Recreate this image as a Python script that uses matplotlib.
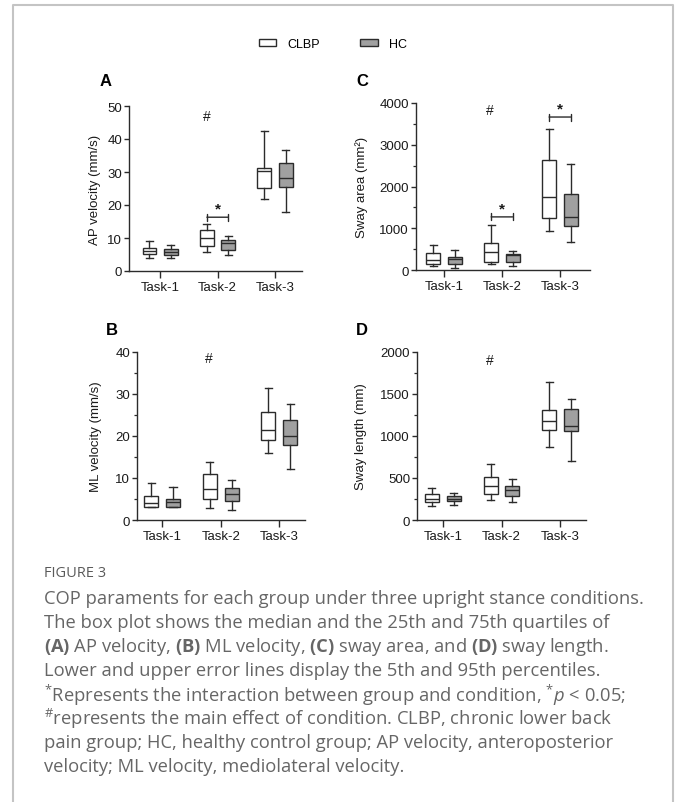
import matplotlib
matplotlib.use("Agg")
import matplotlib.pyplot as plt
from matplotlib.patches import Patch
from matplotlib.lines import Line2D
from matplotlib.ticker import MultipleLocator

W, H = 677, 803
plt.rcParams['font.family'] = ['Liberation Sans', 'DejaVu Sans']
plt.rcParams['mathtext.fontset'] = 'custom'
plt.rcParams['mathtext.rm'] = 'Open Sans'
plt.rcParams['mathtext.bf'] = 'Open Sans:bold'
plt.rcParams['mathtext.it'] = 'Open Sans:italic'

tasks = ["Task-1", "Task-2", "Task-3"]
groups = ["CLBP", "HC"]

# (A) AP velocity
ap_clbp_lo = [4.0, 5.7, 21.7]
ap_clbp_q1 = [5.1, 7.7, 25.2]
ap_clbp_med = [6.0, 10.0, 30.2]
ap_clbp_q3 = [6.9, 12.4, 31.1]
ap_clbp_hi = [9.0, 14.2, 42.3]
ap_hc_lo = [4.0, 5.0, 17.8]
ap_hc_q1 = [5.0, 6.4, 25.4]
ap_hc_med = [5.8, 8.6, 28.1]
ap_hc_q3 = [6.6, 9.3, 32.8]
ap_hc_hi = [8.0, 10.6, 36.8]

# (B) ML velocity
ml_clbp_lo = [3.0, 2.9, 16.0]
ml_clbp_q1 = [3.0, 5.0, 19.0]
ml_clbp_med = [4.1, 7.4, 21.5]
ml_clbp_q3 = [5.8, 11.0, 25.6]
ml_clbp_hi = [8.9, 13.9, 31.5]
ml_hc_lo = [3.0, 2.3, 12.1]
ml_hc_q1 = [3.0, 4.6, 17.8]
ml_hc_med = [4.2, 6.2, 20.0]
ml_hc_q3 = [4.9, 7.6, 23.8]
ml_hc_hi = [7.9, 9.6, 27.6]

# (C) Sway area
area_clbp_lo = [104, 136, 936]
area_clbp_q1 = [152, 184, 1240]
area_clbp_med = [240, 432, 1744]
area_clbp_q3 = [400, 648, 2624]
area_clbp_hi = [608, 1080, 3384]
area_hc_lo = [40, 88, 672]
area_hc_q1 = [152, 184, 1048]
area_hc_med = [272, 352, 1264]
area_hc_q3 = [320, 376, 1832]
area_hc_hi = [472, 456, 2536]

# (D) Sway length
len_clbp_lo = [171, 239, 869]
len_clbp_q1 = [219, 315, 1068]
len_clbp_med = [255, 410, 1179]
len_clbp_q3 = [311, 514, 1307]
len_clbp_hi = [378, 661, 1641]
len_hc_lo = [179, 211, 697]
len_hc_q1 = [227, 287, 1056]
len_hc_med = [255, 355, 1120]
len_hc_q3 = [291, 402, 1327]
len_hc_hi = [327, 490, 1438]

# significance brackets: (task index, bracket height)
ap_sig = [(1, 16.3)]
ml_sig = []
area_sig = [(1, 1272), (2, 3664)]
len_sig = []

EDGE = "#2b2b2b"
HC_FILL = "#a0a0a0"
OFF = 0.185
BW = 0.24


def rect(x0, x1, yt, yb):
    return [x0 / W, 1 - yb / H, (x1 - x0) / W, (yb - yt) / H]


fig = plt.figure(figsize=(W / 100, H / 100), dpi=100)

# outer frame
fc = "#c4c4c4"
fig.add_artist(Line2D([13 / W, 13 / W, 673 / W, 673 / W],
                      [0, 1 - 6 / H, 1 - 6 / H, 0],
                      transform=fig.transFigure, color=fc, lw=1.5))


def stats(lo, q1, med, q3, hi):
    return [dict(whislo=a, q1=b, med=c, q3=d, whishi=e, fliers=[])
            for a, b, c, d, e in zip(lo, q1, med, q3, hi)]


def panel(box, xlim, ylim, major, minor, ylabel, letter, letter_xy,
          ylab_x, clbp, hc, sig, hash_xy):
    ax = fig.add_axes(rect(*box))
    pos = [1, 2, 3]
    for st, off, fill in ((clbp, -OFF, "white"), (hc, OFF, HC_FILL)):
        ax.bxp(st, positions=[p + off for p in pos], widths=BW,
               showfliers=False, patch_artist=True, manage_ticks=False,
               boxprops=dict(facecolor=fill, edgecolor=EDGE, linewidth=1.0),
               medianprops=dict(color=EDGE, linewidth=1.0),
               whiskerprops=dict(color=EDGE, linewidth=1.0),
               capprops=dict(color=EDGE, linewidth=1.0))
    ax.set_xlim(*xlim)
    ax.set_ylim(*ylim)
    ax.set_xticks(pos)
    ax.set_xticklabels(tasks)
    ax.yaxis.set_major_locator(MultipleLocator(major))
    if minor:
        ax.yaxis.set_minor_locator(MultipleLocator(minor))
    for s in ("top", "right"):
        ax.spines[s].set_visible(False)
    for s in ("left", "bottom"):
        ax.spines[s].set_color(EDGE)
        ax.spines[s].set_linewidth(1.0)
    ax.tick_params(axis="x", length=5, width=1.0, color=EDGE,
                   labelsize=9.5, pad=2, labelcolor="#1a1a1a")
    ax.tick_params(axis="y", which="major", length=3.5, width=1.0,
                   color=EDGE, labelsize=9.5, pad=1.5, labelcolor="#1a1a1a")
    ax.tick_params(axis="y", which="minor", length=2.5, width=0.9, color=EDGE)
    ax.set_ylabel(ylabel, fontsize=9.5, color="#1a1a1a")
    x0 = box[0]
    ax.yaxis.set_label_coords((ylab_x - x0) / (box[1] - x0), 0.5)
    fig.text(letter_xy[0] / W, 1 - letter_xy[1] / H, letter,
             fontsize=12, fontweight="bold", ha="center", va="center")
    for ti, yv in sig:
        xa = pos[ti] - OFF
        xb = pos[ti] + OFF
        ax.annotate("", xy=(xa, yv), xytext=(xb, yv),
                    arrowprops=dict(arrowstyle="|-|, widthA=0.25, widthB=0.25",
                                    color=EDGE, lw=1.0, shrinkA=0, shrinkB=0))
        ax.annotate("*", xy=((xa + xb) / 2, yv), xytext=(0, 1),
                    textcoords="offset points", ha="center", va="bottom",
                    fontsize=11, fontweight="bold", color="#1a1a1a")
    ax.text(hash_xy[0], hash_xy[1], "#", ha="center", va="center",
            fontsize=10, color="#1a1a1a")
    return ax


panel((129, 302, 107, 272), (0.46, 3.47), (0, 50), 10, None,
      "AP velocity (mm/s)", "A", (106, 82), 101,
      stats(ap_clbp_lo, ap_clbp_q1, ap_clbp_med, ap_clbp_q3, ap_clbp_hi),
      stats(ap_hc_lo, ap_hc_q1, ap_hc_med, ap_hc_q3, ap_hc_hi),
      ap_sig, (1.82, 47))
panel((137, 305, 353, 521), (0.57, 3.44), (0, 40), 10, 5,
      "ML velocity (mm/s)", "B", (112, 331), 102,
      stats(ml_clbp_lo, ml_clbp_q1, ml_clbp_med, ml_clbp_q3, ml_clbp_hi),
      stats(ml_hc_lo, ml_hc_q1, ml_hc_med, ml_hc_q3, ml_hc_hi),
      ml_sig, (1.79, 38.6))
panel((416, 590, 104, 271), (0.52, 3.52), (0, 4000), 1000, 500,
      "Sway area (mm²)", "C", (362, 82), 368,
      stats(area_clbp_lo, area_clbp_q1, area_clbp_med, area_clbp_q3, area_clbp_hi),
      stats(area_hc_lo, area_hc_q1, area_hc_med, area_hc_q3, area_hc_hi),
      area_sig, (1.79, 3840))
panel((417, 586, 353, 521), (0.56, 3.44), (0, 2000), 500, 250,
      "Sway length (mm)", "D", (362, 331), 367,
      stats(len_clbp_lo, len_clbp_q1, len_clbp_med, len_clbp_q3, len_clbp_hi),
      stats(len_hc_lo, len_hc_q1, len_hc_med, len_hc_q3, len_hc_hi),
      len_sig, (1.8, 1908))

handles = [Patch(facecolor="white", edgecolor=EDGE, lw=1.0),
           Patch(facecolor=HC_FILL, edgecolor=EDGE, lw=1.0)]
fig.legend(handles, groups, loc="center", bbox_to_anchor=(333 / W, 1 - 45 / H),
           ncol=2, frameon=False, fontsize=9, handlelength=1.4,
           handleheight=0.55, handletextpad=0.9, columnspacing=3.2)

# caption
cap_col = "#666666"
fig.text(44 / W, 1 - 574 / H, "FIGURE 3", fontsize=10.5, color="#5a5a5a",
         family="Open Sans", va="center", ha="left")
lines = [
    "COP paraments for each group under three upright stance conditions.",
    "The box plot shows the median and the 25th and 75th quartiles of",
    r"$\mathbf{(A)}$ AP velocity, $\mathbf{(B)}$ ML velocity, $\mathbf{(C)}$ sway area, and $\mathbf{(D)}$ sway length.",
    "Lower and upper error lines display the 5th and 95th percentiles.",
    r"$^{*}$Represents the interaction between group and condition, $^{*}\mathit{p}$ < 0.05;",
    r"$^{\#}$represents the main effect of condition. CLBP, chronic lower back",
    "pain group; HC, healthy control group; AP velocity, anteroposterior",
    "velocity; ML velocity, mediolateral velocity.",
]
for i, ln in enumerate(lines):
    fig.text(44 / W, 1 - (599 + 24 * i) / H, ln, fontsize=13.2, color=cap_col,
             family="Open Sans", va="center", ha="left")

fig.savefig("out.png", dpi=100)
